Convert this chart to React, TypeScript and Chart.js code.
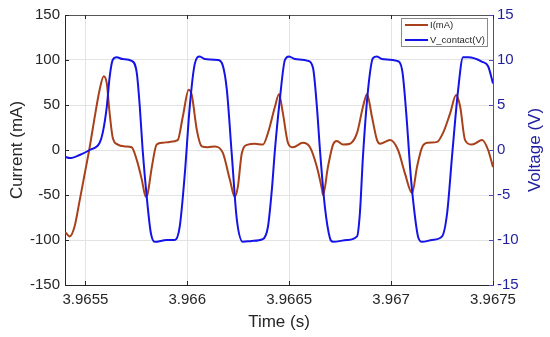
import React, { useEffect, useRef } from "react";
import { Chart, registerables } from "chart.js";

Chart.register(...registerables);

// ---- data ----
const timeCurrent = [
  3.9654, 3.965423, 3.965447, 3.965472, 3.965497, 3.965521, 3.965546, 3.96557, 3.96559, 3.965605,
  3.965619, 3.965634, 3.965659, 3.965693, 3.965727, 3.965752, 3.965777, 3.965796, 3.965806, 3.965826,
  3.96585, 3.96588, 3.965914, 3.965953, 3.965978, 3.966007, 3.966022, 3.966047, 3.966071, 3.966101,
  3.966135, 3.966174, 3.966209, 3.966233, 3.966248, 3.966268, 3.966297, 3.966332, 3.966371, 3.966396,
  3.96643, 3.96645, 3.966469, 3.966494, 3.966518, 3.966567, 3.966602, 3.966636, 3.966661, 3.966666,
  3.96669, 3.966715, 3.966734, 3.966764, 3.966798, 3.966833, 3.966862, 3.966882, 3.966906, 3.966931,
  3.966946, 3.966995, 3.967034, 3.967068, 3.967103, 3.967127, 3.967152, 3.967181, 3.967226, 3.967255,
  3.96729, 3.967319, 3.967339, 3.967363, 3.967397, 3.967447, 3.967476, 3.9675,
];
const currentMA = [
  -91, -96, -85, -56, -26, 3, 37, 67, 82, 74,
  41, 14, 6, 4, 3, -11, -33, -52, -48, -19,
  6, 8, 9, 11, 37, 67, 61, 22, 4, 3,
  4, -3, -33, -52, -41, -3, 6, 7, 6, 19,
  48, 62, 41, 8, 3, 8, 3, -19, -44, -50,
  -19, 6, 10, 6, 7, 19, 48, 62, 37, 11,
  7, 11, 0, -26, -48, -19, 3, 8, 9, 19,
  41, 61, 48, 11, 6, 11, 0, -19,
];

const timeVoltage = [
  3.9654, 3.965423, 3.965472, 3.965521, 3.96557, 3.965585, 3.965605, 3.965619, 3.965634, 3.965654,
  3.965683, 3.965727, 3.965752, 3.965767, 3.965781, 3.965801, 3.965821, 3.96584, 3.965899, 3.965939,
  3.965963, 3.965988, 3.966012, 3.966037, 3.966061, 3.966086, 3.96615, 3.966174, 3.966194, 3.966219,
  3.966243, 3.966273, 3.966317, 3.966371, 3.966396, 3.966415, 3.96643, 3.966454, 3.966479, 3.966499,
  3.966528, 3.966592, 3.966617, 3.966636, 3.966651, 3.966675, 3.9667, 3.966715, 3.966784, 3.966833,
  3.966847, 3.966862, 3.966887, 3.966911, 3.966931, 3.966955, 3.967029, 3.967054, 3.967078, 3.967093,
  3.967108, 3.967132, 3.967152, 3.967201, 3.96725, 3.967275, 3.967299, 3.967329, 3.967353, 3.967378,
  3.967447, 3.967476, 3.9675,
];
const voltageV = [
  -0.74, -0.9, -0.55, 0, 0.8, 1.9, 4.8, 8.1, 10, 10.3,
  10.1, 9.9, 8.6, 4.8, 0, -5.2, -9.2, -10.2, -10, -10,
  -8.5, -2.6, 4.8, 9.6, 10.4, 10.1, 10, 9.4, 6.7, -0.7,
  -7.7, -10.2, -10.1, -9.9, -8.5, -4.4, 0, 5.6, 10, 10.4,
  10.1, 9.9, 9.1, 4.8, 0, -6.3, -9.8, -10.2, -10, -9.6,
  -7, -0.7, 6.7, 10.2, 10.4, 10.1, 9.9, 8.9, 3, -1.9,
  -5.6, -9.6, -10.2, -10, -9.6, -7, -0.7, 6.7, 10.3, 10.3,
  9.8, 9.3, 7.4,
];

const xTicks = [3.9655, 3.966, 3.9665, 3.967, 3.9675];
const xTickLabels = ["3.9655", "3.966", "3.9665", "3.967", "3.9675"];
const yLeftTicks = [-150, -100, -50, 0, 50, 100, 150];
const yRightTicks = [-15, -10, -5, 0, 5, 10, 15];
const seriesNames = ["I(mA)", "V_contact(V)"];

const FONT = "'Liberation Sans', Arial, sans-serif";
const RED = "#a8401a";
const BLUE = "#1414e6";
const AXIS_BLUE = "#1f1fa0";
const DARK = "#262626";
const GRID = "#e3e3e3";

const overlay = {
  id: "overlay",
  afterDraw(chart: any) {
    const { ctx, chartArea, scales } = chart;
    const { left, right, top, bottom } = chartArea;
    ctx.save();
    ctx.lineWidth = 1;
    // top box line
    ctx.strokeStyle = "#555555";
    ctx.beginPath();
    ctx.moveTo(left, top + 0.5);
    ctx.lineTo(right, top + 0.5);
    ctx.stroke();
    // inward tick marks
    ctx.strokeStyle = DARK;
    ctx.beginPath();
    xTicks.forEach((v) => {
      const px = Math.round(scales.x.getPixelForValue(v)) + 0.5;
      ctx.moveTo(px, bottom);
      ctx.lineTo(px, bottom - 4);
      ctx.moveTo(px, top);
      ctx.lineTo(px, top + 4);
    });
    yLeftTicks.forEach((v) => {
      const py = Math.round(scales.y.getPixelForValue(v)) + 0.5;
      ctx.moveTo(left, py);
      ctx.lineTo(left + 4, py);
    });
    ctx.stroke();
    ctx.strokeStyle = "#4a4ac8";
    ctx.beginPath();
    yRightTicks.forEach((v) => {
      const py = Math.round(scales.y1.getPixelForValue(v)) + 0.5;
      ctx.moveTo(right, py);
      ctx.lineTo(right - 4, py);
    });
    ctx.stroke();

    // legend box
    const bw = 86;
    const bh = 28;
    const bx = right - 6 - bw;
    const by = top + 3;
    ctx.fillStyle = "#ffffff";
    ctx.fillRect(bx, by, bw, bh);
    ctx.strokeStyle = "#8a8a8a";
    ctx.strokeRect(bx + 0.5, by + 0.5, bw, bh);
    const colors = [RED, BLUE];
    ctx.font = `9.5px ${FONT}`;
    ctx.textBaseline = "middle";
    ctx.textAlign = "left";
    seriesNames.forEach((name, i) => {
      const ly = by + 7 + i * 15;
      ctx.strokeStyle = colors[i];
      ctx.lineWidth = 2;
      ctx.beginPath();
      ctx.moveTo(bx + 4, ly);
      ctx.lineTo(bx + 27, ly);
      ctx.stroke();
      ctx.fillStyle = DARK;
      ctx.fillText(name, bx + 29, ly);
    });

    // right axis title (reads bottom-to-top)
    ctx.translate(535, (top + bottom) / 2);
    ctx.rotate(-Math.PI / 2);
    ctx.font = `17px ${FONT}`;
    ctx.fillStyle = AXIS_BLUE;
    ctx.textAlign = "center";
    ctx.textBaseline = "middle";
    ctx.fillText("Voltage (V)", 0, 0);
    ctx.restore();
  },
};

export default function App() {
  const ref = useRef<HTMLCanvasElement | null>(null);

  useEffect(() => {
    if (!ref.current) return;
    const chart = new Chart(ref.current, {
      type: "line",
      data: {
        datasets: [
          {
            label: seriesNames[1],
            data: timeVoltage.map((t, i) => ({ x: t, y: voltageV[i] })),
            yAxisID: "y1",
            borderColor: BLUE,
            borderWidth: 2,
            pointRadius: 0,
            cubicInterpolationMode: "monotone",
            order: 0,
          },
          {
            label: seriesNames[0],
            data: timeCurrent.map((t, i) => ({ x: t, y: currentMA[i] })),
            yAxisID: "y",
            borderColor: RED,
            borderWidth: 2,
            pointRadius: 0,
            cubicInterpolationMode: "monotone",
            order: 1,
          },
        ],
      },
      options: {
        responsive: false,
        animation: false,
        devicePixelRatio: 1,
        layout: { padding: { top: 15, left: 0, right: 0, bottom: 0 } },
        plugins: { legend: { display: false }, tooltip: { enabled: false } },
        scales: {
          x: {
            type: "linear",
            min: 3.9654,
            max: 3.9675,
            afterBuildTicks: (s: any) => {
              s.ticks = xTicks.map((v) => ({ value: v }));
            },
            afterFit: (s: any) => {
              s.height = 52;
              s.paddingLeft = 0;
              s.paddingRight = 0;
            },
            ticks: {
              autoSkip: false,
              maxRotation: 0,
              padding: 6,
              color: DARK,
              font: { family: FONT, size: 15 },
              callback: (_v: any, i: number) => xTickLabels[i],
            },
            grid: { color: GRID, drawTicks: false },
            border: { display: true, color: DARK, width: 1 },
            title: {
              display: true,
              text: "Time (s)",
              color: DARK,
              font: { family: FONT, size: 17 },
              padding: { top: 0, bottom: 4 },
            },
          },
          y: {
            type: "linear",
            position: "left",
            min: -150,
            max: 150,
            afterBuildTicks: (s: any) => {
              s.ticks = yLeftTicks.map((v) => ({ value: v }));
            },
            afterFit: (s: any) => {
              s.width = 65;
              s.paddingTop = 0;
              s.paddingBottom = 0;
            },
            ticks: {
              padding: 5,
              color: DARK,
              font: { family: FONT, size: 15 },
            },
            grid: { color: GRID, drawTicks: false },
            border: { display: true, color: DARK, width: 1 },
            title: {
              display: true,
              text: "Current (mA)",
              color: DARK,
              font: { family: FONT, size: 17 },
              padding: { top: 7, bottom: 0 },
            },
          },
          y1: {
            type: "linear",
            position: "right",
            min: -15,
            max: 15,
            afterBuildTicks: (s: any) => {
              s.ticks = yRightTicks.map((v) => ({ value: v }));
            },
            afterFit: (s: any) => {
              s.width = 57;
              s.paddingTop = 0;
              s.paddingBottom = 0;
            },
            ticks: {
              padding: 4,
              color: AXIS_BLUE,
              font: { family: FONT, size: 15 },
            },
            grid: { drawOnChartArea: false, drawTicks: false },
            border: { display: true, color: "#4a4ac8", width: 1 },
          },
        },
      },
      plugins: [overlay],
    } as any);
    return () => chart.destroy();
  }, []);

  return (
    <div style={{ position: "absolute", left: 0, top: 0, width: 550, height: 337, background: "#fff" }}>
      <canvas ref={ref} width={550} height={337} style={{ display: "block" }} />
    </div>
  );
}
